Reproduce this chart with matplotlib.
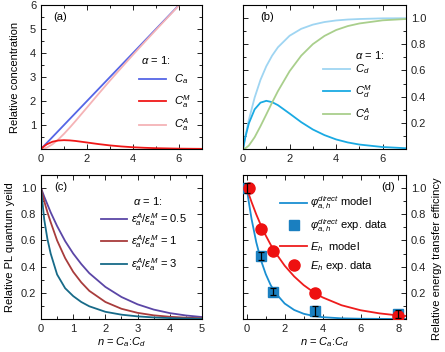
import matplotlib
matplotlib.use('Agg')
import matplotlib.pyplot as plt
from matplotlib.lines import Line2D
from matplotlib.ticker import MultipleLocator

plt.rcParams['font.family'] = ['Liberation Sans', 'DejaVu Sans']
plt.rcParams['mathtext.fontset'] = 'custom'
plt.rcParams['mathtext.rm'] = 'Liberation Sans'
plt.rcParams['mathtext.it'] = 'Liberation Sans:italic'
plt.rcParams['mathtext.bf'] = 'Liberation Sans:bold'
plt.rcParams['font.size'] = 8
plt.rcParams['axes.linewidth'] = 0.8

# ---- data ----
# panels (a) and (b): concentrations vs n
n_ab = [0, 0.1, 0.25, 0.5, 0.75, 1, 1.25, 1.5, 2, 2.5, 3, 3.5, 4, 4.5, 5, 6, 7]
ca = [0, 0.1, 0.25, 0.5, 0.75, 1, 1.25, 1.5, 2, 2.5, 3, 3.5, 4, 4.5, 5, 6, 7]
ca_m = [0, 0.09, 0.195, 0.303, 0.354, 0.368, 0.358, 0.335, 0.271, 0.205, 0.149,
        0.106, 0.073, 0.05, 0.034, 0.015, 0.006]
ca_a = [0, 0.01, 0.055, 0.197, 0.396, 0.632, 0.892, 1.165, 1.729, 2.295, 2.851,
        3.394, 3.927, 4.45, 4.966, 5.985, 6.994]
cd = [0, 0.095, 0.221, 0.393, 0.528, 0.632, 0.713, 0.777, 0.865, 0.918, 0.95,
      0.97, 0.982, 0.989, 0.993, 0.998, 0.999]
cd_m = ca_m
cd_a = [0, 0.005, 0.026, 0.09, 0.174, 0.264, 0.355, 0.442, 0.594, 0.713, 0.801,
        0.864, 0.909, 0.939, 0.959, 0.983, 0.993]

# panel (c): relative PL quantum yield
n_c = [0, 0.1, 0.2, 0.3, 0.5, 0.75, 1, 1.25, 1.5, 2, 2.5, 3, 3.5, 4, 4.5, 5]
pl_05 = [1, 0.935, 0.875, 0.815, 0.71, 0.595, 0.5, 0.42, 0.35, 0.245, 0.168,
         0.112, 0.072, 0.045, 0.027, 0.015]
pl_1 = [1, 0.9, 0.815, 0.74, 0.6, 0.465, 0.36, 0.28, 0.215, 0.13, 0.078,
        0.047, 0.028, 0.017, 0.01, 0.006]
pl_3 = [1, 0.76, 0.61, 0.5, 0.34, 0.235, 0.175, 0.13, 0.097, 0.055, 0.033,
        0.02, 0.012, 0.007, 0.004, 0.002]

# panel (d): energy transfer efficiency
n_d = [0, 0.1, 0.25, 0.5, 0.75, 1, 1.25, 1.5, 2, 2.5, 3, 3.5, 4, 5, 6, 7, 8, 8.4]
phi_model = [1, 0.899, 0.765, 0.586, 0.448, 0.343, 0.262, 0.201, 0.118, 0.069,
             0.04, 0.024, 0.014, 0.005, 0.002, 0.001, 0.0, 0.0]
eh_model = [1, 0.956, 0.894, 0.799, 0.714, 0.638, 0.57, 0.509, 0.407, 0.325,
            0.259, 0.207, 0.165, 0.105, 0.067, 0.043, 0.027, 0.023]
n_sq = [0, 0.75, 1.4, 3.6, 8]
phi_exp = [1.0, 0.48, 0.21, 0.06, 0.04]
phi_err = [0.04, 0.03, 0.03, 0.04, 0.03]
n_ci = [0.1, 0.75, 1.4, 3.6, 8]
eh_exp = [1.0, 0.69, 0.52, 0.2, 0.02]
eh_err = [0.03, 0.02, 0.02, 0.02, 0.02]

W, H = 445, 352
fig = plt.figure(figsize=(W / 100, H / 100), dpi=100)


def box(l, t, r, b):
    return [l / W, 1 - b / H, (r - l) / W, (b - t) / H]


ax_a = fig.add_axes(box(41, 5, 202, 149))
ax_b = fig.add_axes(box(243, 5, 406, 149))
ax_c = fig.add_axes(box(41, 175, 202, 319))
ax_d = fig.add_axes(box(243, 175, 406, 319))


def style(ax, xmaj, xmin, ymin, right=False):
    ax.xaxis.set_major_locator(MultipleLocator(xmaj))
    ax.xaxis.set_minor_locator(MultipleLocator(xmin))
    ax.yaxis.set_minor_locator(MultipleLocator(ymin))
    ax.tick_params(which='both', direction='in', top=True, right=True,
                   labelsize=8, colors='#222222', width=0.7)
    ax.tick_params(which='major', length=3.5)
    ax.tick_params(which='minor', length=2)
    if right:
        ax.tick_params(labelleft=False, labelright=True)


# (a)
ax_a.plot(n_ab, ca, color='#5566e6', lw=1.3, label=r'$C_a$')
ax_a.plot(n_ab, ca_a, color='#f5b3b6', lw=1.3, label=r'$C_a^A$')
ax_a.plot(n_ab, ca_m, color='#f01818', lw=1.3, label=r'$C_a^M$')
ax_a.set_xlim(0, 7)
ax_a.set_ylim(0, 6)
ax_a.set_yticks([1, 2, 3, 4, 5, 6])
style(ax_a, 2, 1, 0.5)
h, l = ax_a.get_legend_handles_labels()
ax_a.legend([h[0], h[2], h[1]], [l[0], l[2], l[1]], loc='upper left',
            bbox_to_anchor=(0.61, 0.53), frameon=False, fontsize=8,
            handlelength=2.4, handletextpad=0.7, labelspacing=0.6,
            borderpad=0, borderaxespad=0)
ax_a.text(0.62, 0.59, r'$\alpha$ = 1:', transform=ax_a.transAxes, fontsize=8)
ax_a.text(0.12, 0.915, '(a)', transform=ax_a.transAxes, ha='center', va='center', fontsize=8)
ax_a.set_ylabel('Relative concentration', fontsize=8, labelpad=7)

# (b)
ax_b.plot(n_ab, cd, color='#9fd5f2', lw=1.3, label=r'$C_d$')
ax_b.plot(n_ab, cd_m, color='#1aaae3', lw=1.3, label=r'$C_d^M$')
ax_b.plot(n_ab, cd_a, color='#a9cf8c', lw=1.3, label=r'$C_d^A$')
ax_b.set_xlim(0, 7)
ax_b.set_ylim(0, 1.1)
ax_b.set_yticks([0.2, 0.4, 0.6, 0.8, 1.0])
ax_b.yaxis.set_major_formatter(matplotlib.ticker.FormatStrFormatter('%.1f'))
style(ax_b, 2, 1, 0.1, right=True)
ax_b.legend(loc='upper left', bbox_to_anchor=(0.49, 0.60), frameon=False,
            fontsize=8, handlelength=2.4, handletextpad=0.5, labelspacing=0.6,
            borderpad=0, borderaxespad=0)
ax_b.text(0.69, 0.625, r'$\alpha$ = 1:', transform=ax_b.transAxes, fontsize=8)
ax_b.text(0.147, 0.915, '(b)', transform=ax_b.transAxes, ha='center', va='center', fontsize=8)

# (c)
ax_c.plot(n_c, pl_05, color='#5b46a6', lw=1.3, label=r'$\varepsilon_a^A/\varepsilon_a^M$ = 0.5')
ax_c.plot(n_c, pl_1, color='#a83c3c', lw=1.3, label=r'$\varepsilon_a^A/\varepsilon_a^M$ = 1')
ax_c.plot(n_c, pl_3, color='#176a88', lw=1.3, label=r'$\varepsilon_a^A/\varepsilon_a^M$ = 3')
ax_c.set_xlim(0, 5)
ax_c.set_ylim(0, 1.1)
ax_c.set_yticks([0.2, 0.4, 0.6, 0.8, 1.0])
ax_c.yaxis.set_major_formatter(matplotlib.ticker.FormatStrFormatter('%.1f'))
style(ax_c, 1, 0.5, 0.1)
ax_c.legend(loc='upper left', bbox_to_anchor=(0.37, 0.75), frameon=False,
            fontsize=8, handlelength=2.4, handletextpad=0.3, labelspacing=0.5,
            borderpad=0, borderaxespad=0)
ax_c.text(0.57, 0.79, r'$\alpha$ = 1:', transform=ax_c.transAxes, fontsize=8)
ax_c.text(0.12, 0.92, '(c)', transform=ax_c.transAxes, ha='center', va='center', fontsize=8)
ax_c.set_ylabel('Relative PL quantum yeild', fontsize=8, labelpad=4)
ax_c.set_xlabel(r'$n$ = $C_a$:$C_d$', fontsize=8, labelpad=1)

# (d)
ax_d.plot(n_d, phi_model, color='#1a8fd2', lw=1.3)
ax_d.plot(n_d, eh_model, color='#ee1c1c', lw=1.3)
ax_d.plot(n_sq, phi_exp, 's', color='#1a7fc0', ms=6.5, zorder=3)
ax_d.errorbar(n_sq, phi_exp, yerr=phi_err, fmt='none', ecolor='black',
              elinewidth=0.9, capsize=2, capthick=0.9, zorder=5)
ax_d.errorbar(n_ci, eh_exp, yerr=eh_err, fmt='o', color='#ee1010', ms=8,
              ecolor='#ee1010', elinewidth=0.8, capsize=2, zorder=4)
ax_d.set_xlim(-0.2, 8.4)
ax_d.set_ylim(0, 1.1)
ax_d.set_yticks([0.2, 0.4, 0.6, 0.8, 1.0])
ax_d.yaxis.set_major_formatter(matplotlib.ticker.FormatStrFormatter('%.1f'))
style(ax_d, 2, 1, 0.1, right=True)
handles = [Line2D([], [], color='#1a8fd2', lw=1.3),
           Line2D([], [], color='#1a7fc0', marker='s', ms=6.5, ls='none'),
           Line2D([], [], color='#ee1c1c', lw=1.3),
           Line2D([], [], color='#ee1010', marker='o', ms=8, ls='none')]
labels = [r'$\varphi_{a,h}^{direct}$ model', r'$\varphi_{a,h}^{direct}$ exp. data',
          r'$E_h$  model', r'$E_h$ exp. data']
ax_d.legend(handles, labels, loc='upper left', bbox_to_anchor=(0.23, 0.86),
            frameon=False, fontsize=8, handlelength=2.4, handletextpad=0.3,
            labelspacing=0.45, borderpad=0, borderaxespad=0)
ax_d.text(0.89, 0.915, '(d)', transform=ax_d.transAxes, ha='center', va='center', fontsize=8)
ax_d.set_xlabel(r'$n$ = $C_a$:$C_d$', fontsize=8, labelpad=1)

fig.text(437 / W, 1 - 259 / H, 'Relative energy transfer efficincy', rotation=90,
         ha='center', va='center', fontsize=8)

fig.savefig('out.png', dpi=100)
